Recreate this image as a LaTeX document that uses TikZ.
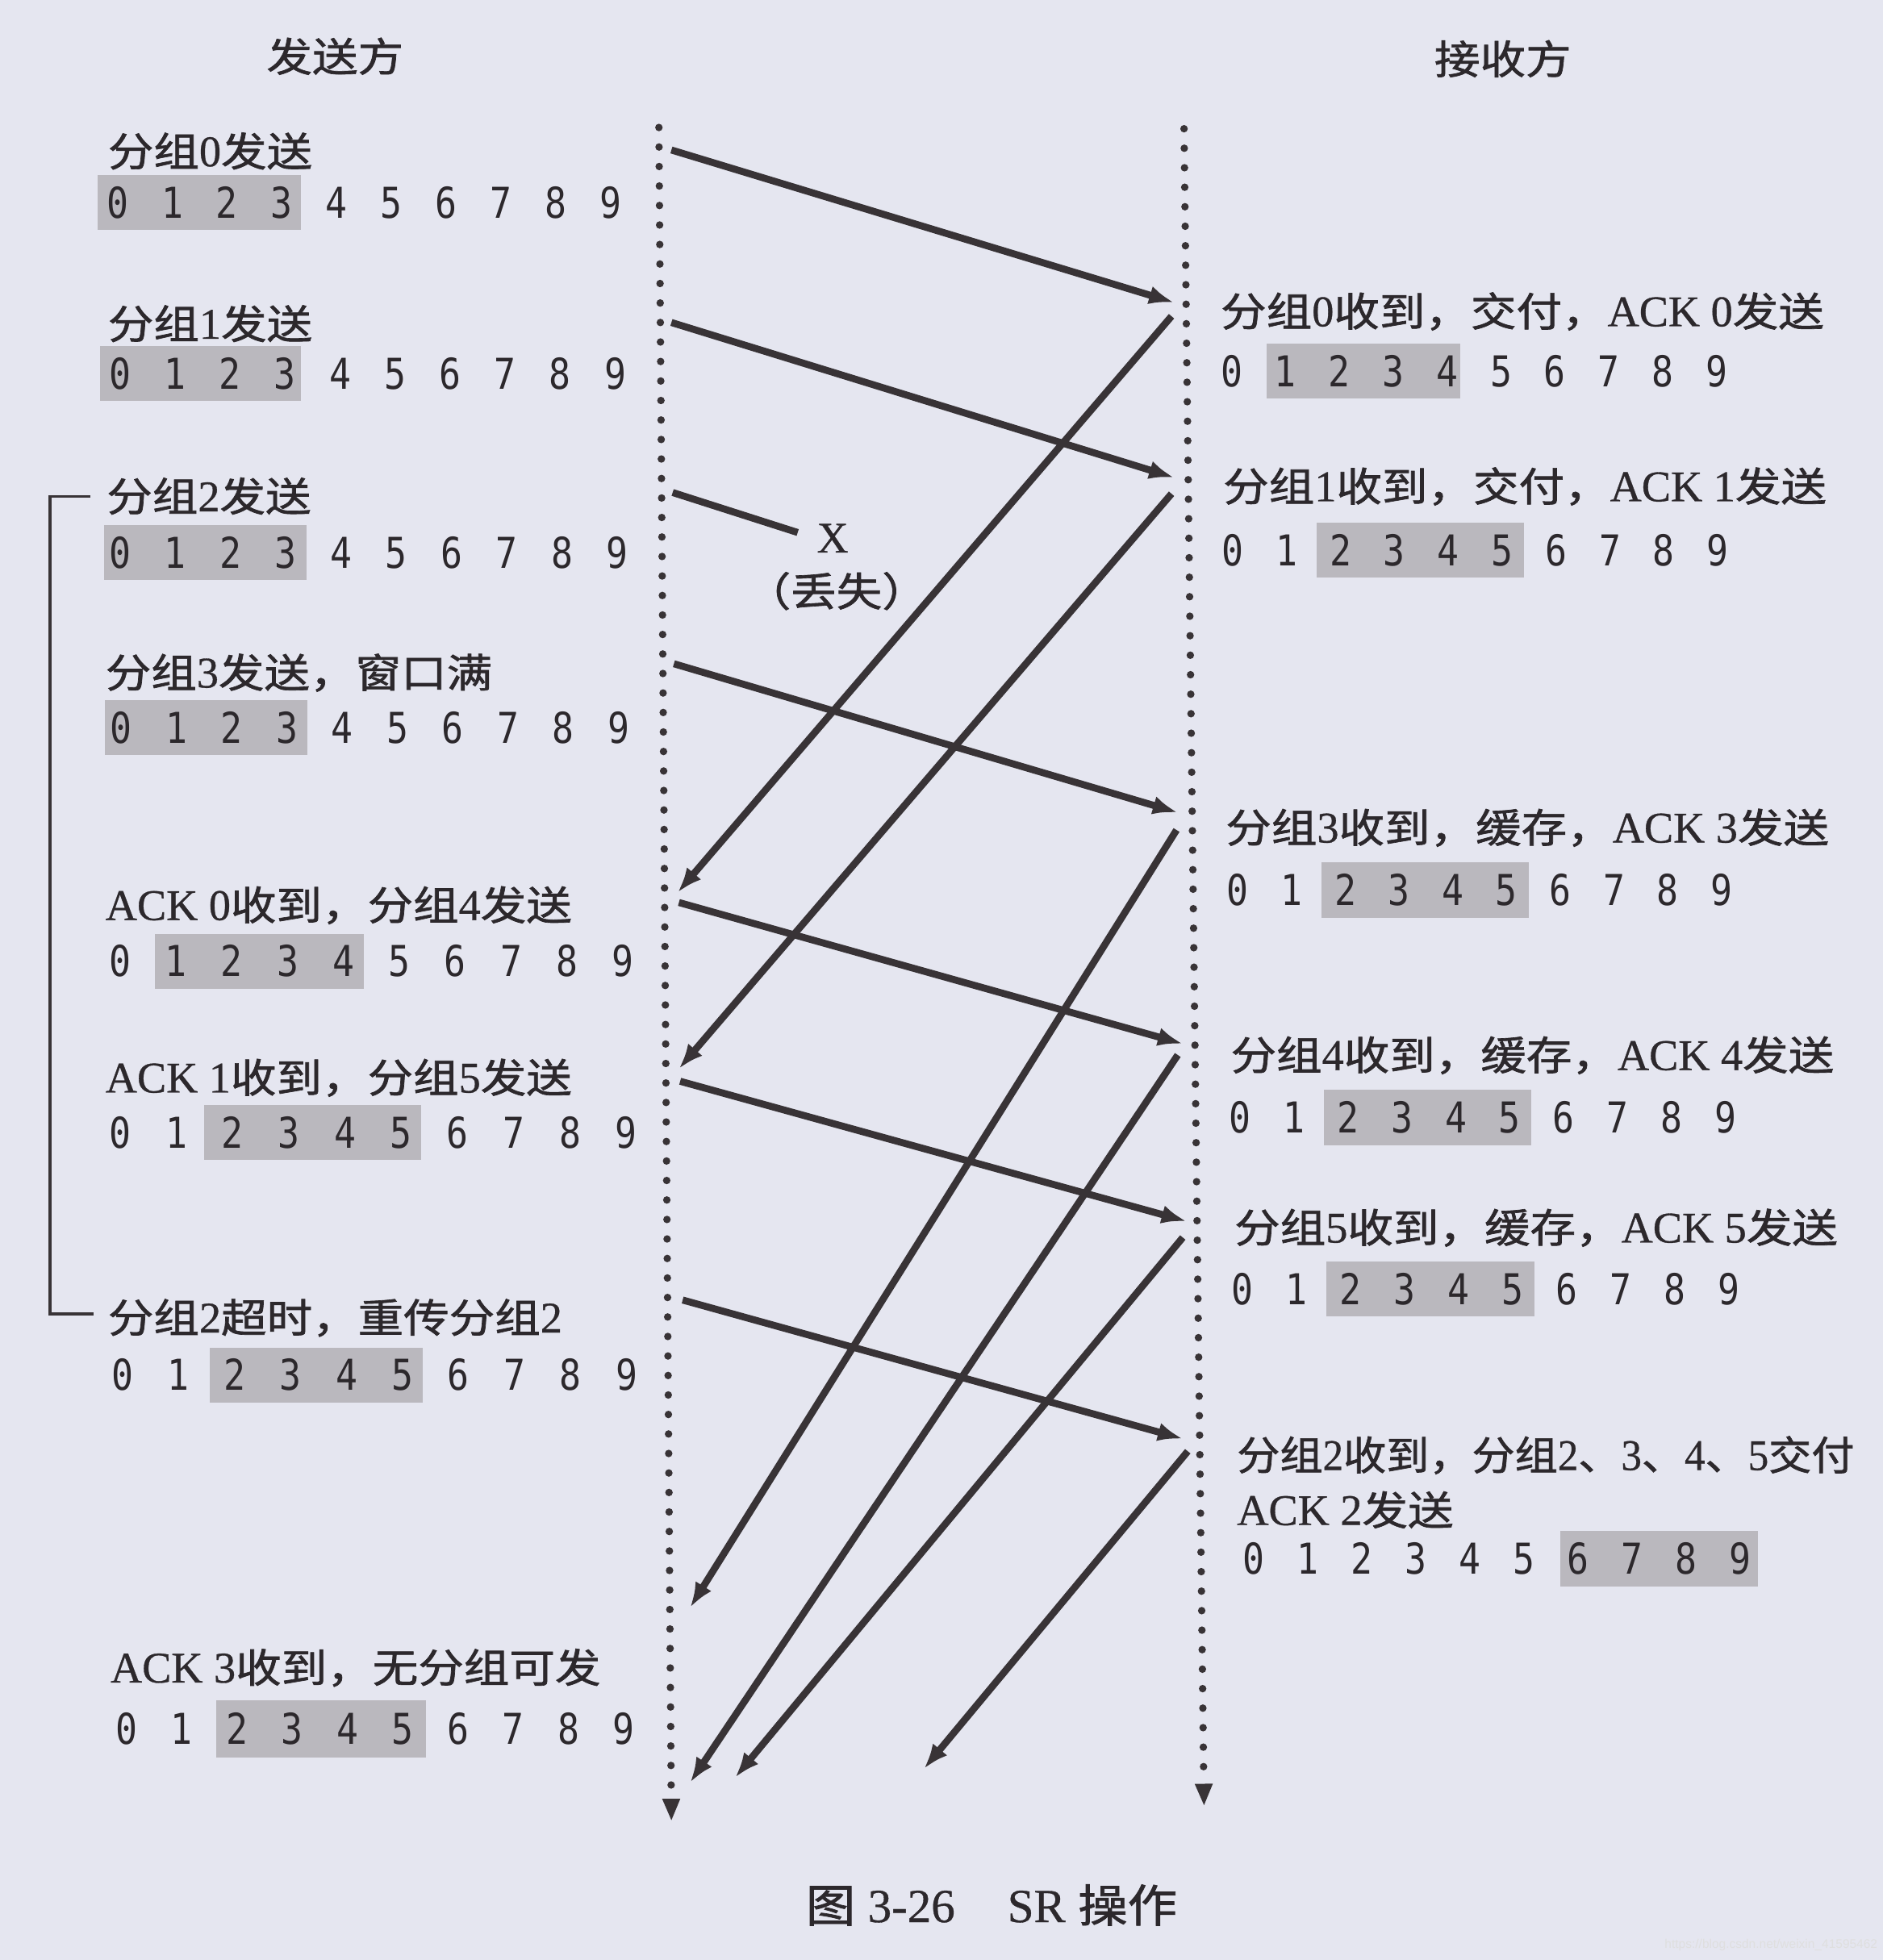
\documentclass[tikz,border=0pt]{standalone}
\usepackage{fontspec}
\setmainfont{Liberation Serif}[FakeBold=0.6]
\newfontfamily\cjk{Noto Sans CJK SC}[FakeBold=1.3]
\newfontfamily\monofnt{DejaVu Sans Mono}
\newfontfamily\sansf{Liberation Sans}
\usetikzlibrary{arrows.meta}
\definecolor{bgc}{RGB}{229,230,240}
\definecolor{ink}{RGB}{44,40,44}
\definecolor{lin}{RGB}{56,51,54}
\definecolor{shadec}{RGB}{186,184,190}
\newcommand\C[1]{{\cjk\fontsize{16}{18}\selectfont\scalebox{1.14}[1]{#1}}}
\newcommand\digrow[7]{%
  \fill[shadec] (#5,{#4-#7}) rectangle (#6,{#4+#7});
  \foreach \k in {0,...,9}{\node[dig] (#1-\k) at ({#2+\k*#3},#4) {\scalebox{0.85}[1]{\k}};}
}
\tikzset{
  txt/.style={anchor=west, inner sep=0pt, text=ink, font=\fontsize{17.5}{19}\selectfont, text height=14pt, text depth=2pt},
  hdr/.style={inner sep=0pt, text=ink, font=\fontsize{17.5}{19}\selectfont},
  dig/.style={inner sep=0pt, text=ink, font=\monofnt\fontsize{17}{17}\selectfont, text height=12.4pt, text depth=0pt},
  msg/.style={draw=lin, line width=2.8pt, -{Latex[length=10pt,width=7.5pt]}},
  lostmsg/.style={draw=lin, line width=2.8pt},
  timeline/.style={draw=lin, line width=3pt, line cap=round, dash pattern=on 0pt off 7.8pt, -{Triangle[length=9pt,width=6.5pt]}},
  bracket/.style={draw=lin, line width=1.1pt},
}
\begin{document}
\begin{tikzpicture}[x=0.5pt,y=-0.5pt]
\fill[bgc] (0,0) rectangle (1506,1568);
\useasboundingbox (0,0) rectangle (1506,1568);

% headers
\node[hdr] (hs) at (268,45) {\C{发送方}};
\node[hdr] (hr) at (1202,47) {\C{接收方}};

% timelines
\coordinate (sTop) at (527,102);
\coordinate (sBot) at (537,1457);
\coordinate (rTop) at (947,103);
\coordinate (rBot) at (963,1445);
\draw[timeline] (sTop) -- (sBot);
\draw[timeline] (rTop) -- (rBot);

% sender digit rows
\digrow{s0}{94}{43.8}{162}{78}{241}{22}
\digrow{s1}{96}{44}{299}{80}{241}{22}
\digrow{s2}{96}{44.2}{442}{83}{245}{22}
\digrow{s3}{97}{44.2}{582}{84}{246}{22}
\digrow{s4}{96}{44.7}{769}{124}{291}{22}
\digrow{s5}{96}{45}{906}{163}{337}{22}
\digrow{s6}{98}{44.8}{1100}{168}{338}{22}
\digrow{s7}{101}{44.2}{1383}{173}{341}{23}

% receiver digit rows
\digrow{q0}{985}{43.1}{297}{1013}{1168}{22}
\digrow{q1}{986}{43.1}{440}{1053}{1219}{22}
\digrow{q3}{990}{43}{712}{1057}{1223}{22}
\digrow{q4}{992}{43.1}{894}{1059}{1225}{22}
\digrow{q5}{994}{43.2}{1031}{1061}{1227}{22}
\digrow{q2}{1003}{43.2}{1247}{1248}{1406}{22}

% sender texts
\node[txt] (t0) at (86,121) {\C{分组}0\C{发送}};
\node[txt] (t1) at (86,259) {\C{分组}1\C{发送}};
\node[txt] (t2) at (85,397) {\C{分组}2\C{发送}};
\node[txt] (t3) at (84,538) {\C{分组}3\C{发送，窗口满}};
\node[txt] (t4) at (84,724) {ACK 0\C{收到，分组}4\C{发送}};
\node[txt] (t5) at (84,862) {ACK 1\C{收到，分组}5\C{发送}};
\node[txt] (t6) at (86,1054) {\C{分组}2\C{超时，重传分组}2};
\node[txt] (t7) at (88,1334) {ACK 3\C{收到，无分组可发}};

% receiver texts
\node[txt] (u0) at (976,249) {\C{分组}0\C{收到，交付，}ACK 0\C{发送}};
\node[txt] (u1) at (978,389) {\C{分组}1\C{收到，交付，}ACK 1\C{发送}};
\node[txt] (u3) at (980,662) {\C{分组}3\C{收到，缓存，}ACK 3\C{发送}};
\node[txt] (u4) at (984,844) {\C{分组}4\C{收到，缓存，}ACK 4\C{发送}};
\node[txt] (u5) at (987,982) {\C{分组}5\C{收到，缓存，}ACK 5\C{发送}};
\node[txt] (u2a) at (989,1164) {\scalebox{0.94}[1]{\C{分组}2\C{收到，分组}2\C{、}3\C{、}4\C{、}5\C{交付}}};
\node[txt] (u2b) at (989,1208) {ACK 2\C{发送}};

% loss marker
\node[txt, anchor=center] (lx) at (666,430) {X};
\node[txt, anchor=center] (ll) at (669,473) {\C{（丢失）}};

% bracket
\coordinate (bt) at (72,397);
\coordinate (btc) at (40,397);
\coordinate (bbc) at (40,1051);
\coordinate (bb) at (75,1051);
\draw[bracket] (bt) -- (btc) -- (bbc) -- (bb);

% data messages
\coordinate (d0a) at (537,120);  \coordinate (d0b) at (939,242);
\coordinate (d1a) at (537,258);  \coordinate (d1b) at (939,382);
\coordinate (d2a) at (538,394);  \coordinate (d2b) at (638,426);
\coordinate (d3a) at (539,531);  \coordinate (d3b) at (942,650);
\coordinate (d4a) at (543,722);  \coordinate (d4b) at (946,835);
\coordinate (d5a) at (544,865);  \coordinate (d5b) at (949,977);
\coordinate (d6a) at (546,1040); \coordinate (d6b) at (946,1151);
\draw[msg] (d0a) -- (d0b);
\draw[msg] (d1a) -- (d1b);
\draw[lostmsg] (d2a) -- (d2b);
\draw[msg] (d3a) -- (d3b);
\draw[msg] (d4a) -- (d4b);
\draw[msg] (d5a) -- (d5b);
\draw[msg] (d6a) -- (d6b);

% ACK messages
\coordinate (a0a) at (937,253);  \coordinate (a0b) at (542,714);
\coordinate (a1a) at (937,395);  \coordinate (a1b) at (543,855);
\coordinate (a3a) at (941,664);  \coordinate (a3b) at (552,1286);
\coordinate (a4a) at (942,844);  \coordinate (a4b) at (552,1426);
\coordinate (a5a) at (946,990);  \coordinate (a5b) at (588,1422);
\coordinate (a2a) at (950,1161); \coordinate (a2b) at (739,1415);
\draw[msg] (a0a) -- (a0b);
\draw[msg] (a1a) -- (a1b);
\draw[msg] (a3a) -- (a3b);
\draw[msg] (a4a) -- (a4b);
\draw[msg] (a5a) -- (a5b);
\draw[msg] (a2a) -- (a2b);

% caption
\node[hdr, font=\fontsize{19}{21}\selectfont] (cap) at (793,1524) {{\cjk\fontsize{18}{20}\selectfont\scalebox{1.1}[1]{图}}\hspace{5pt}3-26\hspace{21pt}SR\hspace{5pt}{\cjk\fontsize{18}{20}\selectfont\scalebox{1.1}[1]{操作}}};

% watermark
\node[anchor=east, inner sep=0pt, text=white!75!gray, font=\sansf\fontsize{5}{6}\selectfont] (wm) at (1502,1556) {https://blog.csdn.net/weixin\_41595462};
\end{tikzpicture}
\end{document}
